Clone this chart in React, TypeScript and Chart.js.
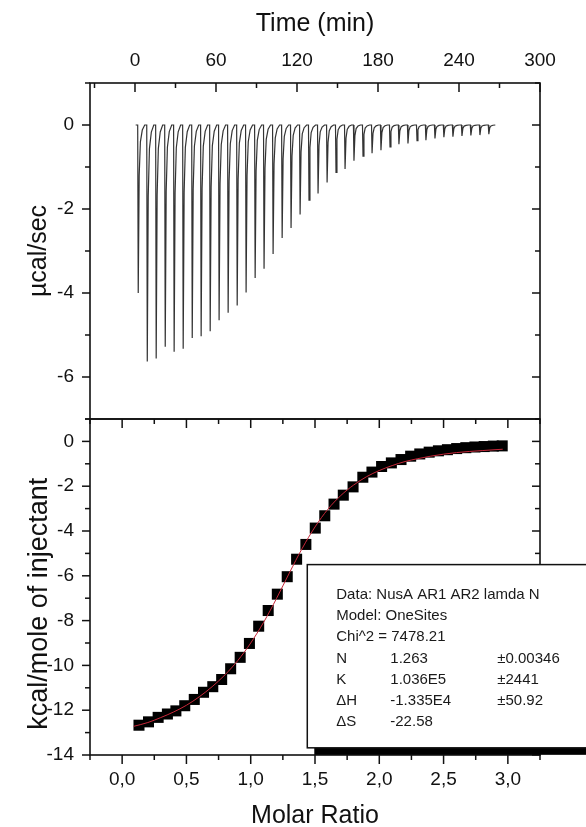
import React, { useEffect, useRef } from 'react';
import { Chart, registerables } from 'chart.js';

Chart.register(...registerables);

// ---------- Top panel: raw thermogram ----------
const injectionTimes = [
  2.0, 8.7, 15.3, 22.0, 28.6, 35.3, 42.0, 48.6, 55.3, 61.9,
  68.6, 75.3, 81.9, 88.6, 95.2, 101.9, 108.6, 115.2, 121.9, 128.5,
  135.2, 141.9, 148.5, 155.2, 161.8, 168.5, 175.2, 181.8, 188.5, 195.1,
  201.8, 208.5, 215.1, 221.8, 228.4, 235.1, 241.8, 248.4, 255.1, 261.7,
];
const peakDepths = [
  -4.0, -5.63, -5.56, -5.28, -5.4, -5.33, -5.07, -5.03, -4.91, -4.65,
  -4.47, -4.3, -3.99, -3.64, -3.42, -3.07, -2.69, -2.45, -2.13, -1.79,
  -1.63, -1.37, -1.13, -1.05, -0.85, -0.74, -0.67, -0.6, -0.52, -0.46,
  -0.44, -0.37, -0.36, -0.32, -0.29, -0.28, -0.26, -0.25, -0.24, -0.22,
];
const traceStart = 0.5;
const traceEnd = 267.4;
// shape of one injection peak (minutes after injection, fraction of depth)
const peakOffsets = [0, 0.4, 1.1, 2.0, 3.4, 5.2];
const peakFractions = [0, 1, 0.3, 0.1, 0.03, 0];

// ---------- Bottom panel: integrated heats ----------
const molarRatio = [
  0.131, 0.205, 0.28, 0.352, 0.418, 0.487, 0.561, 0.633, 0.705, 0.774,
  0.844, 0.918, 0.99, 1.062, 1.136, 1.207, 1.284, 1.357, 1.429, 1.502,
  1.576, 1.648, 1.72, 1.796, 1.872, 1.943, 2.018, 2.094, 2.169, 2.244,
  2.315, 2.388, 2.46, 2.53, 2.602, 2.673, 2.744, 2.816, 2.887, 2.956,
];
const heatPerMole = [
  -12.67, -12.52, -12.32, -12.17, -12.03, -11.8, -11.52, -11.2, -10.95, -10.63,
  -10.15, -9.64, -9.02, -8.25, -7.55, -6.82, -6.04, -5.26, -4.6, -3.87,
  -3.32, -2.8, -2.4, -2.03, -1.6, -1.37, -1.12, -0.96, -0.81, -0.66,
  -0.56, -0.48, -0.42, -0.37, -0.32, -0.28, -0.25, -0.23, -0.21, -0.2,
];
const fitRatio = [
  0.09, 0.2, 0.3, 0.4, 0.5, 0.6, 0.7, 0.8, 0.9, 1.0,
  1.1, 1.2, 1.3, 1.4, 1.5, 1.6, 1.7, 1.8, 1.9, 2.0,
  2.1, 2.2, 2.3, 2.4, 2.5, 2.6, 2.7, 2.8, 2.9, 2.96,
];
const fitHeat = [
  -12.72, -12.55, -12.33, -12.08, -11.78, -11.4, -10.95, -10.42, -9.78, -9.0,
  -8.08, -7.02, -5.88, -4.78, -3.82, -3.03, -2.42, -1.95, -1.58, -1.3,
  -1.08, -0.9, -0.77, -0.66, -0.57, -0.5, -0.45, -0.41, -0.37, -0.35,
];

// ---------- Ticks ----------
const timeTicks = [0, 60, 120, 180, 240, 300];
const timeTickLabels = ['0', '60', '120', '180', '240', '300'];
const timeMinor = [-30, 30, 90, 150, 210, 270];
const powerTicks = [0, -2, -4, -6];
const powerTickLabels = ['0', '-2', '-4', '-6'];
const powerMinor = [1, -1, -3, -5, -7];
const ratioTicks = [0, 0.5, 1, 1.5, 2, 2.5, 3];
const ratioTickLabels = ['0,0', '0,5', '1,0', '1,5', '2,0', '2,5', '3,0'];
const ratioMinor = [-0.25, 0.25, 0.75, 1.25, 1.75, 2.25, 2.75, 3.25];
const heatTicks = [0, -2, -4, -6, -8, -10, -12, -14];
const heatTickLabels = ['0', '-2', '-4', '-6', '-8', '-10', '-12', '-14'];
const heatMinor = [1, -1, -3, -5, -7, -9, -11, -13];

const fitReport = [
  ['Data: NusA AR1 AR2 lamda N'],
  ['Model: OneSites'],
  ['Chi^2 = 7478.21'],
  ['N', '1.263', '\u00b10.00346'],
  ['K', '1.036E5', '\u00b12441'],
  ['\u0394H', '-1.335E4', '\u00b150.92'],
  ['\u0394S', '-22.58'],
];

const FONT = "'Liberation Sans', Arial, Helvetica, sans-serif";
const W = 586;
const H = 827;

type TickSpec = { scale: string; side: 'top' | 'bottom' | 'left' | 'right'; values: number[]; len: number; inward: boolean };

function drawFrameAndTicks(chart: any, specs: TickSpec[]) {
  const { ctx, chartArea } = chart;
  const { left, right, top, bottom } = chartArea;
  ctx.save();
  ctx.strokeStyle = '#111';
  ctx.lineWidth = 1.6;
  ctx.strokeRect(left, top, right - left, bottom - top);
  ctx.lineWidth = 1.5;
  for (const s of specs) {
    const sc = chart.scales[s.scale];
    for (const v of s.values) {
      const p = sc.getPixelForValue(v);
      ctx.beginPath();
      if (s.side === 'top' || s.side === 'bottom') {
        const y0 = s.side === 'top' ? top : bottom;
        const dir = s.side === 'top' ? (s.inward ? 1 : -1) : (s.inward ? -1 : 1);
        ctx.moveTo(p, y0);
        ctx.lineTo(p, y0 + dir * s.len);
      } else {
        const x0 = s.side === 'left' ? left : right;
        const dir = s.side === 'left' ? (s.inward ? 1 : -1) : (s.inward ? -1 : 1);
        ctx.moveTo(x0, p);
        ctx.lineTo(x0 + dir * s.len, p);
      }
      ctx.stroke();
    }
  }
  ctx.restore();
}

function labelFrom(values: number[], labels: string[]) {
  return (v: any) => {
    const i = values.findIndex((t) => Math.abs(t - Number(v)) < 1e-9);
    return i >= 0 ? labels[i] : '';
  };
}

function setTicks(values: number[]) {
  return (axis: any) => {
    axis.ticks = values.map((v) => ({ value: v }));
  };
}

const tickFont = { family: FONT, size: 19 };
const titleFont = { family: FONT, size: 25 };

export default function App() {
  const topRef = useRef<HTMLCanvasElement>(null);
  const botRef = useRef<HTMLCanvasElement>(null);

  useEffect(() => {
    Chart.defaults.font.family = FONT;
    Chart.defaults.color = '#111';

    const tracePoints: { x: number; y: number }[] = [{ x: traceStart, y: 0 }];
    injectionTimes.forEach((t, i) => {
      peakOffsets.forEach((o, j) => tracePoints.push({ x: t + o, y: peakDepths[i] * peakFractions[j] }));
    });
    tracePoints.push({ x: traceEnd, y: 0 });

    const topSpecs: TickSpec[] = [
      { scale: 'x', side: 'top', values: timeTicks, len: 9, inward: true },
      { scale: 'x', side: 'top', values: timeMinor, len: 5, inward: true },
      { scale: 'y', side: 'left', values: powerTicks, len: 8, inward: false },
      { scale: 'y', side: 'left', values: powerMinor, len: 5, inward: false },
      { scale: 'y', side: 'right', values: powerTicks, len: 8, inward: true },
      { scale: 'y', side: 'right', values: powerMinor, len: 5, inward: true },
    ];

    const topChart = new Chart(topRef.current!, {
      type: 'scatter',
      data: {
        datasets: [
          {
            data: tracePoints,
            showLine: true,
            borderColor: '#333',
            borderWidth: 1.2,
            pointRadius: 0,
            tension: 0,
          },
        ],
      },
      options: {
        responsive: false,
        animation: false,
        devicePixelRatio: 1,
        events: [],
        layout: { padding: { left: 0, top: 0, right: W - 540, bottom: H - 419 } },
        plugins: { legend: { display: false }, tooltip: { enabled: false } },
        scales: {
          x: {
            type: 'linear',
            position: 'top',
            min: -33.33,
            max: 300,
            grid: { display: false, drawTicks: false },
            border: { display: false },
            afterBuildTicks: setTicks(timeTicks),
            afterFit: (s: any) => { s.height = 83; s.paddingLeft = 0; s.paddingRight = 0; },
            ticks: { font: tickFont, color: '#111', padding: 10.5, maxRotation: 0, autoSkip: false, callback: labelFrom(timeTicks, timeTickLabels) },
            title: { display: true, text: 'Time (min)', font: titleFont, color: '#111', padding: { top: 9, bottom: 0 } },
          },
          y: {
            type: 'linear',
            position: 'left',
            min: -7,
            max: 1,
            grid: { display: false, drawTicks: false },
            border: { display: false },
            afterBuildTicks: setTicks(powerTicks),
            afterFit: (s: any) => { s.width = 90; s.paddingTop = 0; s.paddingBottom = 0; },
            ticks: { font: tickFont, color: '#111', padding: 16, autoSkip: false, callback: labelFrom(powerTicks, powerTickLabels) },
            title: { display: true, text: '\u00b5cal/sec', font: titleFont, color: '#111', padding: { top: 24, bottom: 0 } },
          },
        },
      },
      plugins: [
        {
          id: 'frameTop',
          afterDraw: (chart: any) => drawFrameAndTicks(chart, topSpecs),
        },
      ],
    } as any);

    const botSpecs: TickSpec[] = [
      { scale: 'x', side: 'bottom', values: ratioTicks, len: 9, inward: false },
      { scale: 'x', side: 'bottom', values: ratioMinor, len: 5, inward: false },
      { scale: 'x', side: 'top', values: ratioTicks, len: 9, inward: true },
      { scale: 'x', side: 'top', values: ratioMinor, len: 5, inward: true },
      { scale: 'y', side: 'left', values: heatTicks, len: 8, inward: false },
      { scale: 'y', side: 'left', values: heatMinor, len: 5, inward: false },
      { scale: 'y', side: 'right', values: heatTicks, len: 8, inward: true },
      { scale: 'y', side: 'right', values: heatMinor, len: 5, inward: true },
    ];

    const botChart = new Chart(botRef.current!, {
      type: 'scatter',
      data: {
        datasets: [
          {
            data: fitRatio.map((x, i) => ({ x, y: fitHeat[i] })),
            showLine: true,
            borderColor: '#c8283a',
            borderWidth: 1,
            pointRadius: 0,
            cubicInterpolationMode: 'monotone',
            order: 0,
          },
          {
            data: molarRatio.map((x, i) => ({ x, y: heatPerMole[i] })),
            showLine: false,
            pointStyle: 'rect',
            pointRadius: 7.8,
            backgroundColor: '#000',
            borderColor: '#000',
            borderWidth: 0,
            order: 1,
          },
        ],
      },
      options: {
        responsive: false,
        animation: false,
        devicePixelRatio: 1,
        events: [],
        layout: { padding: { left: 0, top: 419, right: W - 540, bottom: 0 } },
        plugins: { legend: { display: false }, tooltip: { enabled: false } },
        scales: {
          x: {
            type: 'linear',
            position: 'bottom',
            min: -0.25,
            max: 3.25,
            grid: { display: false, drawTicks: false },
            border: { display: false },
            afterBuildTicks: setTicks(ratioTicks),
            afterFit: (s: any) => { s.height = H - 755; s.paddingLeft = 0; s.paddingRight = 0; },
            ticks: { font: tickFont, color: '#111', padding: 13.5, maxRotation: 0, autoSkip: false, callback: labelFrom(ratioTicks, ratioTickLabels) },
            title: { display: true, text: 'Molar Ratio', font: titleFont, color: '#111', padding: { top: 0, bottom: -4 } },
          },
          y: {
            type: 'linear',
            position: 'left',
            min: -14,
            max: 1,
            grid: { display: false, drawTicks: false },
            border: { display: false },
            afterBuildTicks: setTicks(heatTicks),
            afterFit: (s: any) => { s.width = 90; s.paddingTop = 0; s.paddingBottom = 0; },
            ticks: { font: tickFont, color: '#111', padding: 16, autoSkip: false, callback: labelFrom(heatTicks, heatTickLabels) },
            title: { display: false, text: 'kcal/mole of injectant' },
          },
        },
      },
      plugins: [
        {
          id: 'frameBottom',
          afterDraw: (chart: any) => {
            drawFrameAndTicks(chart, botSpecs);
            const { ctx } = chart;
            const xs = chart.scales.x;
            const ys = chart.scales.y;

            // y-axis title
            ctx.save();
            ctx.translate(40, ys.getPixelForValue(-7.25));
            ctx.rotate(-Math.PI / 2);
            ctx.font = `27px ${FONT}`;
            ctx.fillStyle = '#111';
            ctx.textAlign = 'center';
            ctx.textBaseline = 'middle';
            ctx.fillText('kcal/mole of injectant', 0, 0);
            ctx.restore();

            // fit report box
            const bx = xs.getPixelForValue(1.44);
            const by = ys.getPixelForValue(-5.5);
            const bb = ys.getPixelForValue(-13.68);
            const bw = chart.width - bx + 20;
            const bh = bb - by;
            ctx.save();
            ctx.fillStyle = '#000';
            ctx.fillRect(bx + 7, by + 7, bw, bh);
            ctx.fillStyle = '#fff';
            ctx.fillRect(bx, by, bw, bh);
            ctx.strokeStyle = '#111';
            ctx.lineWidth = 1.5;
            ctx.strokeRect(bx, by, bw, bh);
            ctx.fillStyle = '#1a1a1a';
            ctx.font = `15px ${FONT}`;
            ctx.textBaseline = 'alphabetic';
            ctx.textAlign = 'left';
            const cols = [29, 83, 190];
            fitReport.forEach((row, i) => {
              const y = by + 34 + i * 21.3;
              row.forEach((txt, j) => ctx.fillText(txt, bx + cols[j], y));
            });
            ctx.restore();
          },
        },
      ],
    } as any);

    return () => {
      topChart.destroy();
      botChart.destroy();
    };
  }, []);

  const canvasStyle: React.CSSProperties = { position: 'absolute', left: 0, top: 0, width: W, height: H };
  return (
    <div style={{ position: 'absolute', left: 0, top: 0, width: W, height: H, background: '#fff', overflow: 'hidden' }}>
      <canvas ref={topRef} width={W} height={H} style={canvasStyle} />
      <canvas ref={botRef} width={W} height={H} style={canvasStyle} />
    </div>
  );
}
